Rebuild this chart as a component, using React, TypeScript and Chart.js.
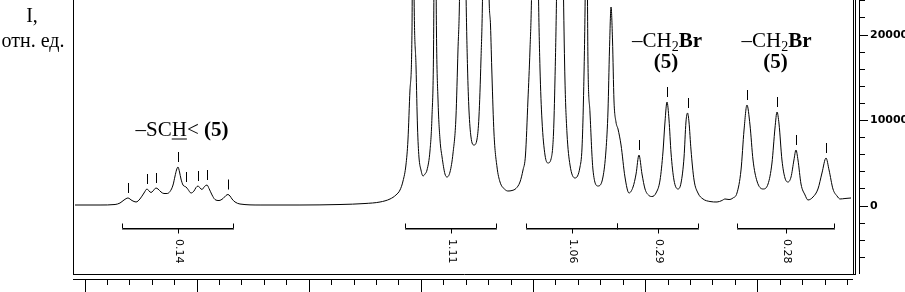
import React, { useEffect, useRef } from "react";
import { Chart, registerables } from "chart.js";

Chart.register(...registerables);

// chemical shift (ppm) and intensity (rel. units)
const shiftPpm: number[] = [
  3.9089, 3.8866, 3.8732, 3.8688, 3.8652, 3.8617, 3.8581, 3.8545, 3.851, 3.8474,
  3.8447, 3.8429, 3.8411, 3.8394, 3.8367, 3.8349, 3.8322, 3.8296, 3.8269, 3.8242,
  3.8215, 3.8197, 3.8184, 3.8171, 3.8157, 3.8144, 3.8126, 3.8099, 3.8081, 3.8055,
  3.8028, 3.801, 3.7992, 3.7974, 3.7957, 3.7934, 3.7912, 3.7894, 3.7867, 3.7841,
  3.7805, 3.7769, 3.7743, 3.7725, 3.7707, 3.7689, 3.7662, 3.7618, 3.7439, 3.7083,
  3.6726, 3.6503, 3.6369, 3.628, 3.6227, 3.6191, 3.6164, 3.6138, 3.612, 3.6102,
  3.6084, 3.6075, 3.6066, 3.6048, 3.6035, 3.6022, 3.6004, 3.5986, 3.5968, 3.595,
  3.5923, 3.5906, 3.5892, 3.5879, 3.5866, 3.5852, 3.5834, 3.5816, 3.579, 3.5772,
  3.5745, 3.5718, 3.5692, 3.5674, 3.566, 3.5634, 3.5602, 3.5589, 3.5576, 3.5558,
  3.5531, 3.5504, 3.5487, 3.5469, 3.5455, 3.5429, 3.5397, 3.5384, 3.5371, 3.5353,
  3.5326, 3.5299, 3.5255, 3.5228, 3.5192, 3.5157, 3.5121, 3.5094, 3.5072, 3.505,
  3.5032, 3.5018, 3.4987, 3.4956, 3.4943, 3.4925, 3.4898, 3.4871, 3.4844, 3.4822,
  3.4809, 3.4795, 3.4764, 3.4733, 3.472, 3.4702, 3.4675, 3.463, 3.4586, 3.4568,
  3.4555, 3.4541, 3.4528, 3.4515, 3.4497, 3.447, 3.4425, 3.4381, 3.4354, 3.4336,
  3.4323, 3.4309, 3.4296, 3.4283, 3.4265, 3.4247, 3.422, 3.4185, 3.4149, 3.4113,
  3.4086, 3.406, 3.4033, 3.4006, 3.3971, 3.3944, 3.3908, 3.3872, 3.3846, 3.3828,
  3.381, 3.3792, 3.3774, 3.3748, 3.3712, 3.3685, 3.3658, 3.3641, 3.3627, 3.3614,
  3.3596, 3.3569, 3.3534, 3.3489, 3.3427, 3.3364, 3.332, 3.3293, 3.3257, 3.3222,
  3.3186, 3.315, 3.3123, 3.3097, 3.307, 3.3043, 3.3008, 3.2954, 3.2909, 3.2874,
  3.2847, 3.2829, 3.2811, 3.2785, 3.2758, 3.2731, 3.2704, 3.2678, 3.266, 3.2642,
  3.2615, 3.2579, 3.2553, 3.2508, 3.2464, 3.2428, 3.2392, 3.2365, 3.233, 3.2294,
  3.2267, 3.2223, 3.2169,
];

const intensity: number[] = [
  117, 117, 175, 351, 702, 936, 643, 468, 819, 1520,
  1988, 1754, 1579, 1754, 2105, 1988, 1637, 1462, 1462, 1696,
  2456, 3509, 4211, 4561, 3977, 3158, 2456, 2222, 1930, 1520,
  1754, 2164, 2339, 2105, 1930, 2281, 2456, 2047, 1287, 760,
  643, 877, 1228, 1345, 1170, 819, 468, 234, 117, 117,
  175, 292, 468, 819, 1287, 1871, 2924, 4795, 7719, 13567,
  20585, 45000, 25263, 16257, 9240, 5731, 4211, 3509, 3743, 4211,
  6550, 10409, 18246, 45000, 20585, 12398, 7719, 5731, 3743, 3392,
  3977, 6199, 10409, 18246, 24679, 60000, 24679, 16257, 11228, 8070,
  7135, 7836, 10409, 17076, 24679, 60000, 24679, 21170, 15322, 8538,
  4561, 2807, 1930, 1754, 1813, 2047, 2807, 4211, 5965, 12398,
  18246, 24679, 60000, 24679, 16257, 10059, 5965, 5029, 5497, 8538,
  14737, 24679, 60000, 24679, 14737, 8538, 4795, 3275, 4561, 6784,
  12398, 22924, 40000, 17076, 10994, 4211, 2339, 3392, 6550, 11228,
  18246, 23275, 19415, 12398, 9825, 9006, 7135, 3392, 1520, 2222,
  3743, 5965, 3743, 1988, 1228, 1111, 1520, 3041, 6316, 9825,
  12164, 10059, 6199, 3041, 1988, 2690, 5731, 9825, 10877, 9825,
  6550, 3041, 1520, 819, 526, 468, 643, 819, 760, 936,
  1520, 4211, 8889, 11813, 9474, 5380, 2924, 1988, 2573, 5029,
  9123, 10994, 9591, 5380, 3275, 2807, 3392, 5380, 6550, 5380,
  2573, 1287, 702, 1053, 1988, 3860, 5614, 4211, 1988, 1170,
  819, 877, 936,
];

// picked peaks (ppm)
const markerPpm: number[] = [
  3.8617, 3.8447, 3.8367, 3.8171, 3.8099, 3.7992, 3.7912, 3.7725,
  3.406, 3.381, 3.3627, 3.3097, 3.2829, 3.266, 3.2392,
];

// integral regions
const integralStart: number[] = [3.867, 3.6146, 3.5067, 3.4256, 3.3186];
const integralEnd: number[] = [3.768, 3.5335, 3.4256, 3.3534, 3.2321];
const integralValue: number[] = [0.14, 1.11, 1.06, 0.29, 0.28];

// axis ranges / ticks
const xRange: number[] = [3.209791, 3.910701];
const yRange: number[] = [-8538, 24094];
const xMinorStep = 0.02;
const yTickValues: number[] = [
  -6000, -4000, -2000, 0, 2000, 4000, 6000, 8000, 10000, 12000, 14000, 16000, 18000, 20000, 22000, 24000,
];
const yTickLabels: number[] = [0, 10000, 20000];

const SERIF = '"Liberation Serif", "Times New Roman", serif';
const SANS = '"DejaVu Sans", sans-serif';

type Run = { text: string; bold?: boolean; sub?: boolean; underline?: boolean };

function drawRuns(ctx: CanvasRenderingContext2D, runs: Run[], cx: number, baseline: number, size: number) {
  const fontFor = (r: Run) => `${r.bold ? "bold " : ""}${r.sub ? Math.round(size * 0.68) : size}px ${SERIF}`;
  const widths = runs.map((r) => {
    ctx.font = fontFor(r);
    return ctx.measureText(r.text).width;
  });
  const total = widths.reduce((a, b) => a + b, 0);
  let x = cx - total / 2;
  ctx.textAlign = "left";
  ctx.textBaseline = "alphabetic";
  runs.forEach((r, i) => {
    ctx.font = fontFor(r);
    ctx.fillText(r.text, x, baseline + (r.sub ? 4 : 0));
    if (r.underline) ctx.fillRect(x, baseline + 2, widths[i], 1);
    x += widths[i];
  });
}

const decorPlugin = {
  id: "nmrDecor",
  afterDraw(chart: any) {
    const { ctx, chartArea: a, scales } = chart;
    const xs = scales.x;
    const ys = scales.y;
    ctx.save();
    ctx.strokeStyle = "#000";
    ctx.fillStyle = "#000";
    ctx.lineWidth = 1;
    const line = (x1: number, y1: number, x2: number, y2: number) => {
      ctx.beginPath();
      ctx.moveTo(x1, y1);
      ctx.lineTo(x2, y2);
      ctx.stroke();
    };
    const fb = a.bottom - 5;
    // frame
    line(a.left + 0.5, a.top, a.left + 0.5, fb + 0.5);
    line(a.left, fb + 0.5, a.right - 3, fb + 0.5);
    line(a.right - 5.5, a.top, a.right - 5.5, fb + 0.5);
    line(a.right - 3.5, a.top, a.right - 3.5, fb + 0.5);
    // axis lines
    line(a.left, a.bottom + 0.5, a.right - 6, a.bottom + 0.5);
    line(a.right + 0.5, a.top, a.right + 0.5, fb);

    // right axis labels
    ctx.font = `bold 11px ${SANS}`;
    ctx.textAlign = "left";
    ctx.textBaseline = "middle";
    yTickLabels.forEach((v) => {
      ctx.fillText(String(v), a.right + 11, ys.getPixelForValue(v));
    });

    // peak markers
    markerPpm.forEach((m) => {
      let best = 0;
      shiftPpm.forEach((s, i) => {
        if (Math.abs(s - m) < Math.abs(shiftPpm[best] - m)) best = i;
      });
      const px = Math.round(xs.getPixelForValue(shiftPpm[best])) + 0.5;
      const py = ys.getPixelForValue(intensity[best]);
      line(px, py - 15, px, py - 5);
    });

    // integrals
    const zero = Math.round(ys.getPixelForValue(0));
    const by = zero + 22.5;
    integralStart.forEach((s, i) => {
      const x1 = Math.round(xs.getPixelForValue(s)) + 0.5;
      const x2 = Math.round(xs.getPixelForValue(integralEnd[i])) + 0.5;
      line(x1, by - 5, x1, by);
      line(x1, by, x2, by);
      line(x2, by - 5, x2, by);
      ctx.setLineDash([1, 1]);
      line(x1, by + 1, x2, by + 1);
      ctx.setLineDash([]);
      const mid = Math.round((x1 + x2) / 2) + 0.5;
      line(mid, by, mid, by + 5);
      ctx.save();
      ctx.translate(mid, by + 10.5);
      ctx.rotate(Math.PI / 2);
      ctx.font = `11px ${SANS}`;
      ctx.textAlign = "left";
      ctx.textBaseline = "middle";
      ctx.fillText(integralValue[i].toFixed(2), 0, 0);
      ctx.restore();
    });

    // assignments
    drawRuns(
      ctx,
      [{ text: "–SC" }, { text: "H", underline: true }, { text: "< " }, { text: "(5)", bold: true }],
      xs.getPixelForValue(3.8135),
      ys.getPixelForValue(8129),
      21
    );
    [3.381, 3.2834].forEach((p) => {
      const cx = xs.getPixelForValue(p);
      drawRuns(ctx, [{ text: "–CH" }, { text: "2", sub: true }, { text: "Br", bold: true }], cx, ys.getPixelForValue(18632), 21);
      drawRuns(ctx, [{ text: "(5)", bold: true }], cx - 1, ys.getPixelForValue(16140), 21);
    });

    // axis title
    ctx.font = `20px ${SERIF}`;
    ctx.textAlign = "center";
    ctx.textBaseline = "alphabetic";
    ctx.fillText("I,", a.left - 41, 22);
    ctx.fillText("отн. ед.", a.left - 40, 47);
    ctx.restore();
  },
};

const isMultiple = (v: number, step: number) => Math.abs(v / step - Math.round(v / step)) < 1e-6;

export default function App() {
  const ref = useRef<HTMLCanvasElement | null>(null);

  useEffect(() => {
    if (!ref.current) return;
    const chart = new Chart(ref.current, {
      type: "line",
      data: {
        datasets: [
          {
            data: shiftPpm.map((x, i) => ({ x, y: intensity[i] })),
            borderColor: "#000",
            borderWidth: 1,
            pointRadius: 0,
            fill: false,
            cubicInterpolationMode: "monotone",
          },
        ],
      },
      options: {
        animation: false,
        responsive: false,
        devicePixelRatio: 1,
        layout: { padding: { left: 73, top: 0, right: 0, bottom: 0 } },
        plugins: { legend: { display: false }, tooltip: { enabled: false }, title: { display: false } },
        scales: {
          x: {
            type: "linear",
            position: "bottom",
            reverse: true,
            min: xRange[0],
            max: xRange[1],
            afterFit: (s: any) => {
              s.height = 13;
            },
            border: { display: false },
            grid: {
              drawOnChartArea: false,
              drawTicks: true,
              tickLength: 13,
              tickColor: "#000",
              tickWidth: 1,
              tickBorderDash: (c: any) => (c.tick && isMultiple(c.tick.value, 0.1) ? [] : [6, 40]),
            },
            ticks: { display: false, stepSize: xMinorStep, includeBounds: false, autoSkip: false },
          },
          y: {
            type: "linear",
            position: "right",
            min: yRange[0],
            max: yRange[1],
            afterBuildTicks: (s: any) => {
              s.ticks = yTickValues.map((v) => ({ value: v }));
            },
            afterFit: (s: any) => {
              s.width = 46;
            },
            border: { display: false },
            grid: {
              drawOnChartArea: false,
              drawTicks: true,
              tickLength: 9,
              tickWidth: 1,
              tickColor: "#000",
              tickBorderDash: (c: any) => (c.tick && yTickLabels.includes(c.tick.value) ? [] : [6, 40]),
            },
            ticks: { display: false, autoSkip: false },
          },
        },
      },
      plugins: [decorPlugin],
    } as any);
    return () => chart.destroy();
  }, []);

  return (
    <div style={{ position: "fixed", left: 0, top: 0, width: 905, height: 292, background: "#fff" }}>
      <canvas ref={ref} width={905} height={292} style={{ display: "block" }} />
    </div>
  );
}
